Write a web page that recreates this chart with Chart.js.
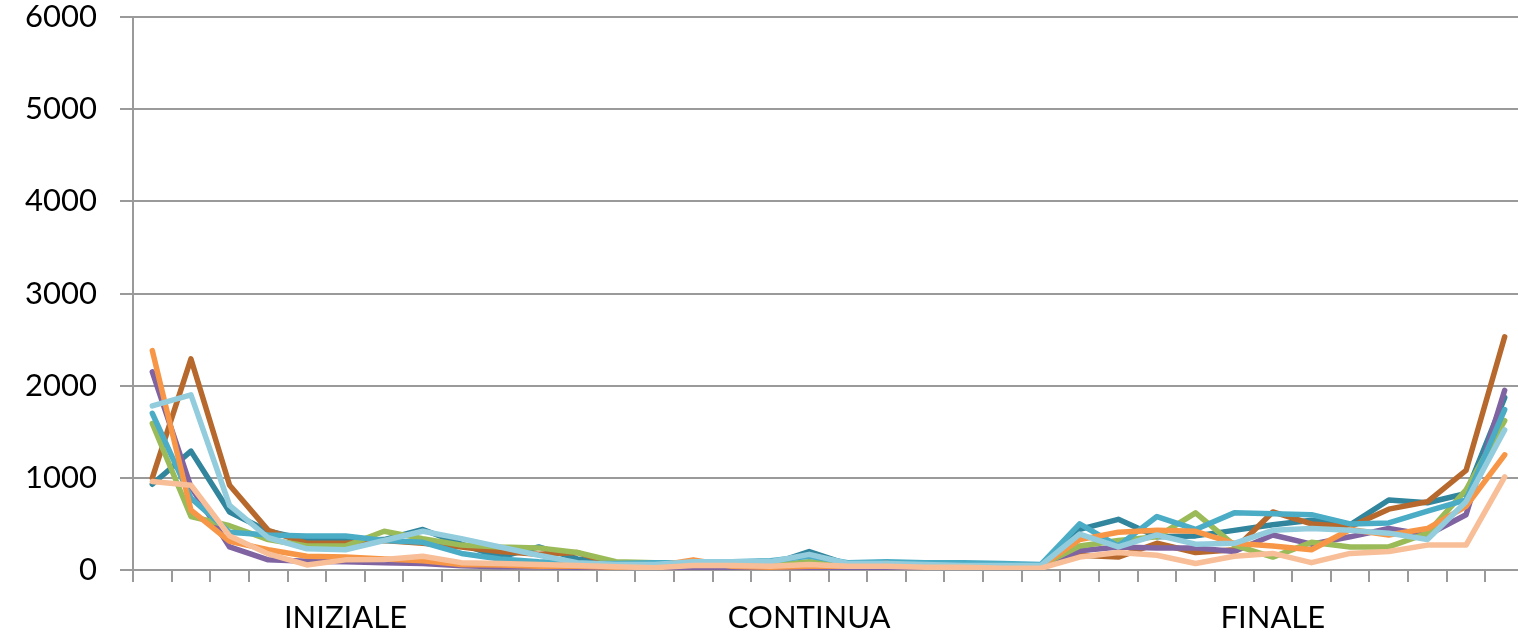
<!DOCTYPE html>
<html lang="it">
<head>
  <meta charset="UTF-8">
  <title>Andamento INIZIALE / CONTINUA / FINALE</title>
  <script src="https://cdn.jsdelivr.net/npm/chart.js"></script>
  <style>
    * { margin: 0; padding: 0; box-sizing: border-box; }
    html, body { width: 1518px; height: 634px; overflow: hidden; background: #fff; }
    /* the plot runs a little past the right edge, like the original screenshot */
    .wrap { position: relative; width: 1540px; height: 634px; }
  </style>
</head>
<body>
  <div class="wrap"><canvas id="chart"></canvas></div>

  <script>
    // --- data ---

    // 36 categories, only three carry a label
    const phaseLabels = ['INIZIALE', 'CONTINUA', 'FINALE'];
    const labelSlots = [5, 17, 29];
    const categories = Array.from({ length: 36 }, () => '');
    labelSlots.forEach((slot, k) => { categories[slot] = phaseLabels[k]; });

    const yTicks = [0, 1000, 2000, 3000, 4000, 5000, 6000];

    const darkTeal = [930, 1290, 630, 420, 330, 320, 330, 440, 280, 140, 250, 120,
      60, 50, 50, 50, 60, 200, 60, 60, 50, 40, 40, 40,
      440, 550, 360, 370, 430, 490, 540, 490, 760, 730, 830, 1870];
    const brown = [1000, 2290, 920, 430, 290, 290, 320, 290, 250, 200, 170, 190,
      50, 40, 60, 40, 40, 60, 40, 50, 40, 40, 40, 40,
      160, 140, 290, 190, 220, 630, 500, 470, 660, 740, 1080, 2530];
    const purple = [2150, 900, 250, 110, 95, 90, 80, 70, 45, 35, 35, 30,
      25, 20, 20, 20, 20, 30, 20, 20, 20, 20, 20, 30,
      210, 250, 240, 240, 200, 380, 280, 360, 450, 380, 600, 1950];
    const green = [1590, 580, 480, 330, 260, 260, 420, 340, 270, 250, 240, 190,
      90, 80, 60, 50, 50, 90, 50, 50, 50, 60, 60, 50,
      260, 320, 360, 620, 270, 140, 300, 250, 250, 400, 870, 1620];
    const aqua = [1700, 780, 410, 380, 370, 370, 320, 300, 180, 120, 90, 70,
      70, 80, 80, 90, 100, 150, 80, 90, 80, 80, 70, 60,
      500, 260, 580, 440, 620, 610, 600, 500, 510, 640, 760, 1740];
    const orange = [2380, 650, 310, 220, 150, 140, 120, 100, 60, 55, 40, 40,
      30, 40, 110, 40, 30, 40, 40, 70, 40, 40, 40, 40,
      330, 410, 430, 420, 290, 260, 220, 440, 380, 450, 690, 1250];
    const lightBlue = [1780, 1900, 700, 350, 230, 220, 320, 420, 340, 250, 160, 80,
      60, 60, 90, 90, 90, 170, 70, 70, 60, 50, 50, 50,
      390, 250, 380, 280, 290, 430, 450, 430, 400, 330, 740, 1520];
    const peach = [960, 920, 370, 175, 55, 110, 115, 150, 80, 70, 60, 50,
      35, 25, 50, 50, 40, 60, 40, 40, 30, 30, 20, 20,
      140, 190, 160, 70, 150, 180, 80, 180, 200, 270, 270, 1010];

    // bottom to top, in drawing order
    const seriesList = [
      { data: darkTeal, color: '#31859c' },
      { data: brown, color: '#b7692d' },
      { data: purple, color: '#8064a2' },
      { data: green, color: '#9bbb59' },
      { data: aqua, color: '#4bacc6' },
      { data: orange, color: '#f79646' },
      { data: lightBlue, color: '#93cddd' },
      { data: peach, color: '#f8be98' }
    ];

    // --- chart ---
    const gridGray = '#9a9a9a';
    const font = { family: 'Lato, "Open Sans", sans-serif', size: 31 };

    const ctx = document.getElementById('chart').getContext('2d');
    new Chart(ctx, {
      type: 'line',
      data: {
        labels: categories,
        datasets: seriesList.map((s, i) => ({
          data: s.data,
          borderColor: s.color,
          backgroundColor: s.color,
          borderWidth: 5.5,
          borderCapStyle: 'round',
          borderJoinStyle: 'round',
          pointRadius: 0,
          tension: 0,
          fill: false,
          order: seriesList.length - i
        }))
      },
      options: {
        responsive: true,
        maintainAspectRatio: false,
        animation: false,
        layout: { padding: { top: 17, right: 16, left: 0, bottom: 0 } },
        plugins: { legend: { display: false }, tooltip: { enabled: false } },
        scales: {
          x: {
            offset: true,
            grid: {
              offset: true,
              drawOnChartArea: false,
              drawTicks: true,
              tickLength: 12,
              color: gridGray,
              lineWidth: 2
            },
            border: { display: true, color: gridGray, width: 2 },
            ticks: {
              autoSkip: false,
              maxRotation: 0,
              minRotation: 0,
              padding: 17,
              color: '#000',
              font: font
            },
            afterFit: (scale) => { scale.height = 64; }
          },
          y: {
            min: 0,
            max: 6000,
            afterBuildTicks: (scale) => { scale.ticks = yTicks.map(v => ({ value: v })); },
            grid: {
              color: gridGray,
              lineWidth: 2,
              drawTicks: true,
              tickLength: 13
            },
            border: { display: true, color: gridGray, width: 2 },
            ticks: {
              padding: 23,
              color: '#000',
              font: font,
              callback: (v) => String(v)
            },
            afterFit: (scale) => {
              scale.width = 133;
              scale.paddingTop = 0;
              scale.paddingBottom = 0;
            }
          }
        }
      }
    });
  </script>
</body>
</html>
